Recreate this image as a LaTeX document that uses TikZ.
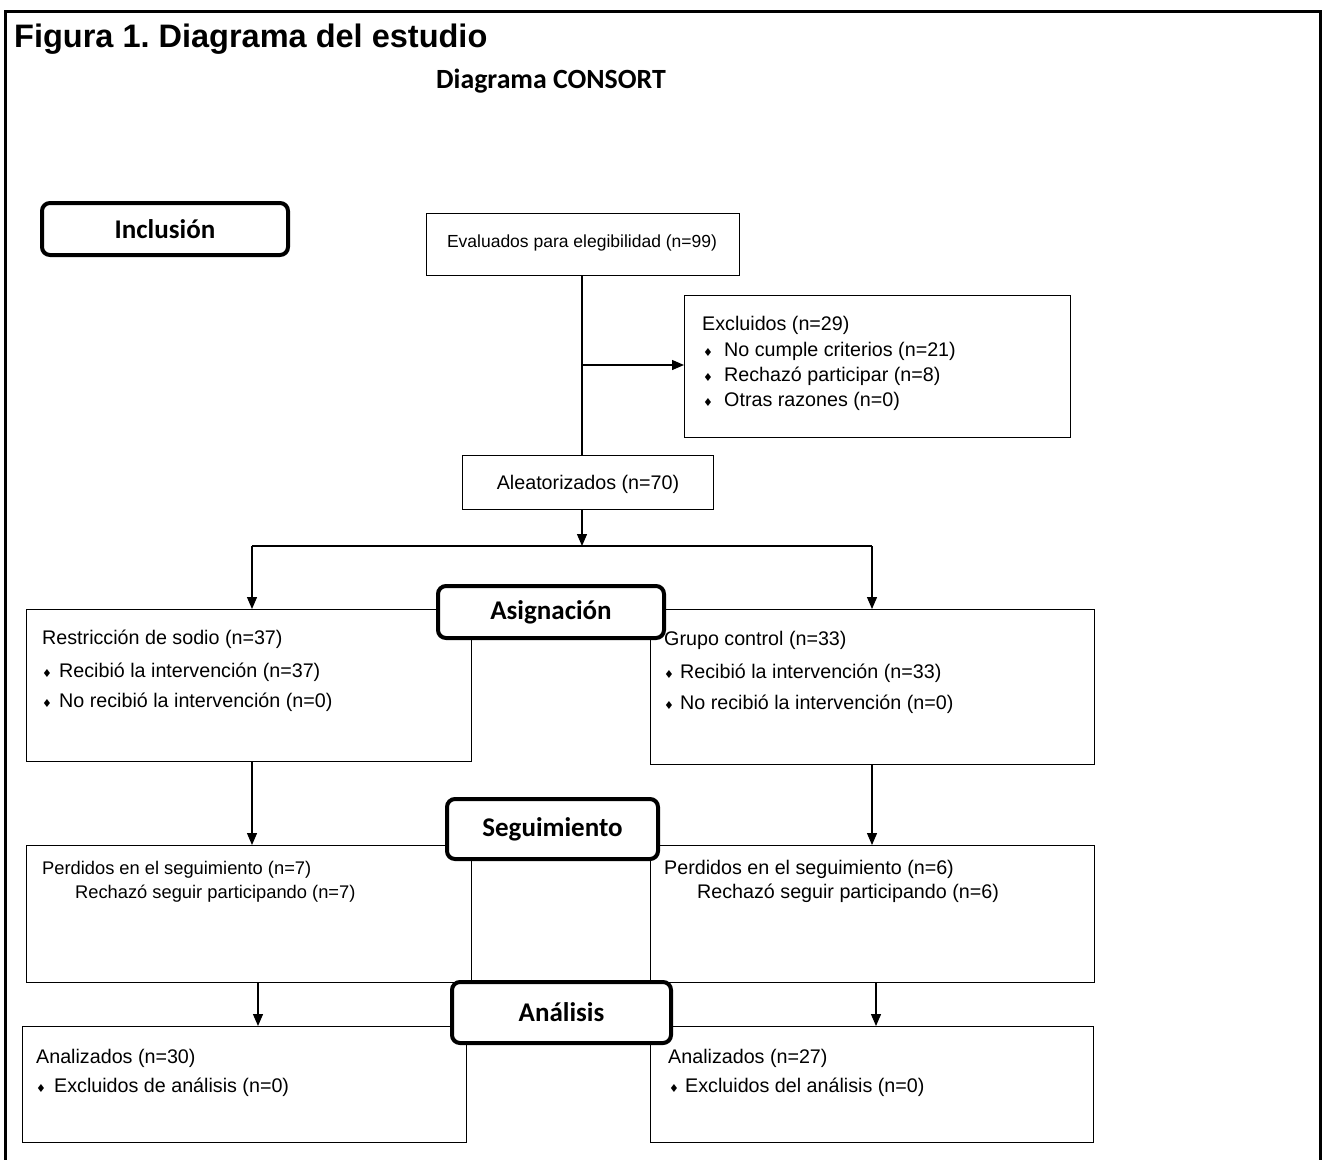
\documentclass[tikz,border=0pt]{standalone}
\usepackage{fontspec}
\setmainfont{Liberation Sans}
\newfontfamily\labelfont{Carlito}
\newfontfamily\symfont{DejaVu Sans}
\usetikzlibrary{arrows.meta}
\frenchspacing

\newcommand{\bodyfont}{\fontsize{17.5}{21}\selectfont}
\newcommand{\midfont}{\fontsize{18.3}{22}\selectfont}
\newcommand{\widefont}{\fontsize{19.7}{23}\selectfont}
\newcommand{\bul}{{\symfont\fontsize{11}{11}\selectfont\char"2666}}

\tikzset{
  box/.style={draw, line width=1.3pt, inner sep=0pt, anchor=north west},
  stage/.style={draw, line width=4pt, rounded corners=8pt, fill=white,
    inner sep=0pt, anchor=north west, font=\labelfont\bfseries\fontsize{27}{32}\selectfont},
  txt/.style={anchor=base west, inner sep=0pt, font=\bodyfont},
  mtxt/.style={anchor=base west, inner sep=0pt, font=\midfont},
  wtxt/.style={anchor=base west, inner sep=0pt, font=\widefont},
  ctxt/.style={anchor=base, inner sep=0pt, font=\bodyfont},
  bultxt/.style={anchor=base, inner sep=0pt},
  link/.style={line width=1.3pt},
  arr/.style={line width=1.3pt, -{Triangle[length=12pt,width=10pt]}},
}

\begin{document}
\begin{tikzpicture}[x=1pt,y=-1pt]
\useasboundingbox (0,0) rectangle (1324,1159);

% open frame round the whole figure
\draw[line width=3pt] (5,1165) -- (5,11) -- (1320,11) -- (1320,1165);

% headings
\node[anchor=base west, inner sep=0pt, font=\bfseries\fontsize{32.5}{38}\selectfont]
  (title) at (14,47) {Figura 1. Diagrama del estudio};
\node[anchor=base, inner sep=0pt, font=\labelfont\bfseries\fontsize{27.8}{33}\selectfont]
  (subtitle) at (551,88) {Diagrama CONSORT};

% boxes
\node[box, minimum width=313pt, minimum height=62pt] (eval) at (426,213) {};
\node[box, minimum width=386pt, minimum height=142pt] (excl) at (684,295) {};
\node[box, minimum width=251pt, minimum height=54pt] (alea) at (462,455) {};
\node[box, minimum width=445pt, minimum height=152pt] (rest) at (26,609) {};
\node[box, minimum width=444pt, minimum height=155pt] (ctrl) at (650,609) {};
\node[box, minimum width=445pt, minimum height=137pt] (perdL) at (26,845) {};
\node[box, minimum width=444pt, minimum height=137pt] (perdR) at (650,845) {};
\node[box, minimum width=444pt, minimum height=116pt] (anaL) at (22,1026) {};
\node[box, minimum width=443pt, minimum height=116pt] (anaR) at (650,1026) {};

% box texts
\node[ctxt] (evalT) at (582,247) {Evaluados para elegibilidad (n=99)};

\node[wtxt] (exclT) at (702,330) {Excluidos (n=29)};
\node[bultxt] (exclB1) at (708,356) {\bul};
\node[wtxt] (exclT1) at (724,356) {No cumple criterios (n=21)};
\node[bultxt] (exclB2) at (708,381) {\bul};
\node[wtxt] (exclT2) at (724,381) {Rechazó participar (n=8)};
\node[bultxt] (exclB3) at (708,406) {\bul};
\node[wtxt] (exclT3) at (724,406) {Otras razones (n=0)};

\node[anchor=base, inner sep=0pt, font=\widefont] (aleaT) at (588,489) {Aleatorizados (n=70)};

\node[wtxt] (restT) at (42,644) {Restricción de sodio (n=37)};
\node[bultxt] (restB1) at (47,677) {\bul};
\node[wtxt] (restT1) at (59,677) {Recibió la intervención (n=37)};
\node[bultxt] (restB2) at (47,707) {\bul};
\node[wtxt] (restT2) at (59,707) {No recibió la intervención (n=0)};

\node[wtxt] (ctrlT) at (664,645) {Grupo control (n=33)};
\node[bultxt] (ctrlB1) at (669,678) {\bul};
\node[wtxt] (ctrlT1) at (680,678) {Recibió la intervención (n=33)};
\node[bultxt] (ctrlB2) at (669,709) {\bul};
\node[wtxt] (ctrlT2) at (680,709) {No recibió la intervención (n=0)};

\node[mtxt] (perdLT) at (42,874) {Perdidos en el seguimiento (n=7)};
\node[mtxt] (perdLT1) at (75,898) {Rechazó seguir participando (n=7)};
\node[wtxt] (perdRT) at (664,874) {Perdidos en el seguimiento (n=6)};
\node[wtxt] (perdRT1) at (697,898) {Rechazó seguir participando (n=6)};

\node[wtxt] (anaLT) at (36,1063) {Analizados (n=30)};
\node[bultxt] (anaLB) at (41,1092) {\bul};
\node[wtxt] (anaLT1) at (54,1092) {Excluidos de análisis (n=0)};
\node[wtxt] (anaRT) at (668,1063) {Analizados (n=27)};
\node[bultxt] (anaRB) at (674,1092) {\bul};
\node[wtxt] (anaRT1) at (685,1092) {Excluidos del análisis (n=0)};

% connectors
\coordinate (trunk) at (582,275);
\coordinate (branch) at (582,365);
\coordinate (split) at (582,546);
\coordinate (splitL) at (252,546);
\coordinate (splitR) at (872,546);
\draw[link] (trunk) -- (trunk |- alea.north);
\draw[arr] (branch) -- (branch -| excl.west);
\draw[arr] (split |- alea.south) -- (split);
\draw[link] (splitL) -- (splitR);
\draw[arr] (splitL) -- (splitL |- rest.north);
\draw[arr] (splitR) -- (splitR |- ctrl.north);

\coordinate (fuL) at (252,0);
\coordinate (fuR) at (872,0);
\draw[arr] (fuL |- rest.south) -- (fuL |- perdL.north);
\draw[arr] (fuR |- ctrl.south) -- (fuR |- perdR.north);

\coordinate (anL) at (258,0);
\coordinate (anR) at (876,0);
\draw[arr] (anL |- perdL.south) -- (anL |- anaL.north);
\draw[arr] (anR |- perdR.south) -- (anR |- anaR.north);

% stage labels
\node[stage, minimum width=246pt, minimum height=52pt] (incl) at (40,201) {Inclusión};
\node[stage, minimum width=226pt, minimum height=52pt] (asig) at (436,584) {Asignación};
\node[stage, minimum width=211pt, minimum height=60pt] (segu) at (445,797) {Seguimiento};
\node[stage, minimum width=219pt, minimum height=61pt] (anal) at (450,980) {Análisis};
\end{tikzpicture}
\end{document}
